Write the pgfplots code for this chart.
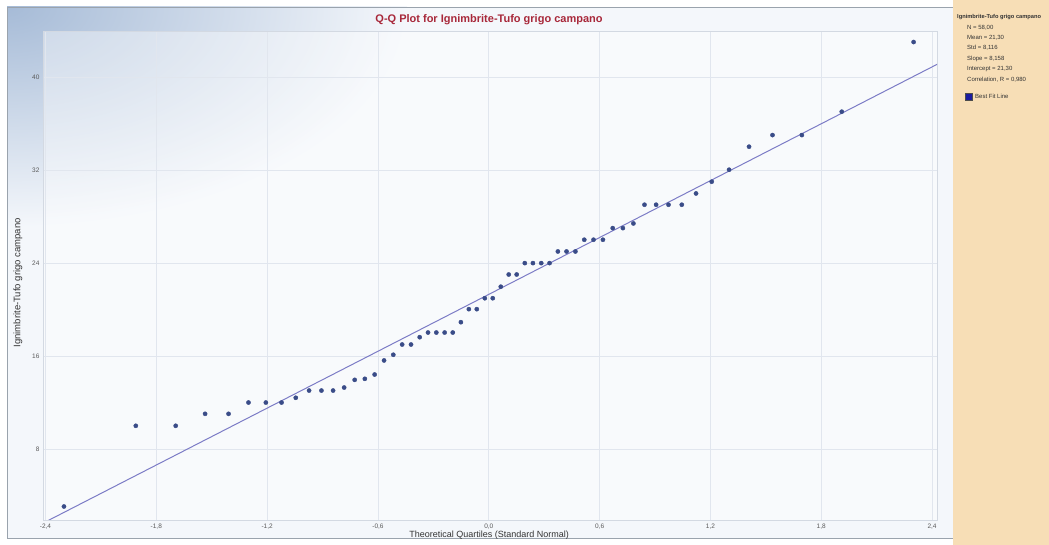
\documentclass[border=0pt]{standalone}
\usepackage{pgfplots}
\pgfplotsset{compat=1.18}
\usepackage{fontspec}
\setmainfont{Liberation Sans}
\definecolor{bgc}{HTML}{F4F7FB}
\definecolor{gradc}{HTML}{A6BBD7}
\definecolor{panelc}{HTML}{F7DEB6}
\definecolor{framec}{HTML}{9AA3AD}
\definecolor{gridc}{HTML}{E1E6EE}
\definecolor{boxc}{HTML}{D3D9E2}
\definecolor{ptc}{HTML}{3A4C88}
\definecolor{linec}{HTML}{7C7CC6}
\definecolor{titlec}{HTML}{A8283A}
\definecolor{txtc}{HTML}{5A5A5A}
\definecolor{labc}{HTML}{333333}
\definecolor{bfl}{HTML}{1C1CA0}

\pgfplotstableread{
x y
-2.300 3.06
-1.911 10.0
-1.695 10.0
-1.536 11.03
-1.409 11.03
-1.301 12.0
-1.207 12.0
-1.122 12.0
-1.045 12.41
-0.973 13.03
-0.906 13.03
-0.843 13.03
-0.783 13.29
-0.726 13.95
-0.671 14.04
-0.618 14.41
-0.567 15.62
-0.517 16.11
-0.469 16.99
-0.421 16.99
-0.374 17.62
-0.329 18.02
-0.284 18.02
-0.239 18.02
-0.195 18.02
-0.151 18.91
-0.108 20.03
-0.065 20.03
-0.0215 20.97
0.0215 20.97
0.065 21.96
0.108 23.01
0.151 23.01
0.195 23.99
0.239 23.99
0.284 23.99
0.329 23.99
0.374 24.99
0.421 24.99
0.469 24.99
0.517 26.0
0.567 26.0
0.618 26.0
0.671 27.0
0.726 27.0
0.783 27.4
0.843 29.01
0.906 29.01
0.973 29.01
1.045 29.01
1.122 29.98
1.207 30.99
1.301 32.02
1.409 34.0
1.536 35.0
1.695 35.0
1.911 37.01
2.300 43.0
}\qqdata

\begin{document}
\begin{tikzpicture}
\path[use as bounding box] (0pt,0pt) rectangle (1049pt,545pt);
\fill[white] (0pt,0pt) rectangle (1049pt,545pt);
\fill[bgc] (7pt,7pt) rectangle (953pt,538pt);
\begin{scope}
\clip (7pt,7pt) rectangle (953pt,538pt);
\shade[inner color=gradc, outer color=bgc] (7pt,538pt) ellipse (400pt and 220pt);
\end{scope}
\draw[framec, line width=0.8pt] (7pt,7pt) rectangle (953pt,538pt);
\fill[panelc] (953pt,0pt) rectangle (1049pt,545pt);

\node[font=\bfseries\fontsize{11}{13}\selectfont, text=titlec] at (489pt,525pt) {Q-Q Plot for Ignimbrite-Tufo grigo campano};

\begin{scope}[every node/.style={anchor=west, inner sep=0pt, text=labc, font=\fontsize{6}{7}\selectfont}]
\node[font=\bfseries\fontsize{5.7}{6}\selectfont] at (957pt,528pt) {Ignimbrite-Tufo grigo campano};
\node at (967pt,517pt) {N = 58,00};
\node at (967pt,507pt) {Mean = 21,30};
\node at (967pt,497pt) {Std = 8,116};
\node at (967pt,486pt) {Slope = 8,158};
\node at (967pt,476pt) {Intercept = 21,30};
\node at (967pt,465pt) {Correlation, R = 0,980};
\node at (975pt,448.5pt) {Best Fit Line};
\end{scope}
\fill[bfl, draw=black!70, line width=0.3pt] (965pt,445pt) rectangle (972pt,452pt);

\begin{axis}[
  at={(43pt,25pt)}, anchor=south west,
  scale only axis, width=894pt, height=489pt,
  xmin=-2.4135, xmax=2.4267, ymin=1.9, ymax=43.95,
  axis background/.style={fill=white, fill opacity=0.4},
  xtick={-2.4,-1.8,-1.2,-0.6,0,0.6,1.2,1.8,2.4},
  xticklabels={{-2,4},{-1,8},{-1,2},{-0,6},{0,0},{0,6},{1,2},{1,8},{2,4}},
  ytick={8,16,24,32,40},
  yticklabels={8,16,24,32,40},
  grid=major,
  major grid style={gridc, line width=0.7pt},
  axis line style={boxc, line width=0.6pt},
  major tick length=0pt,
  tick label style={font=\fontsize{6.5}{7}\selectfont, text=txtc},
  xlabel={Theoretical Quartiles (Standard Normal)},
  ylabel={Ignimbrite-Tufo grigo campano},
  xlabel style={at={(axis description cs:0.499,0)}, anchor=center, yshift=-15pt, font=\fontsize{9}{10}\selectfont, text=labc},
  ylabel style={at={(axis description cs:-0.028,0.485)}, anchor=center, font=\fontsize{9.5}{10}\selectfont, text=labc},
]
\addplot[linec, line width=1pt] coordinates {(-2.45,1.33) (2.45,41.27)};
\addplot[only marks, mark=*, mark size=2.1pt, mark options={draw=ptc, fill=ptc}] table[x=x, y=y] {\qqdata};
\end{axis}
\end{tikzpicture}
\end{document}
